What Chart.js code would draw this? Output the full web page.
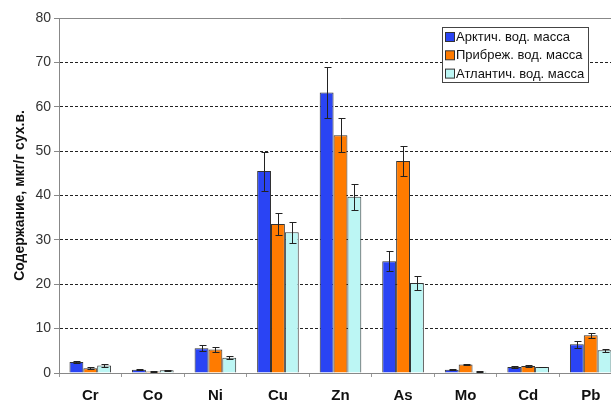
<!DOCTYPE html>
<html><head><meta charset="utf-8">
<script src="https://cdn.jsdelivr.net/npm/chart.js@4"></script>
<style>html,body{margin:0;padding:0;background:#fff;overflow:hidden;width:611px;height:401px}</style>
</head><body>
<canvas id="c" width="622" height="401" style="display:block"></canvas>
<script>
const categories = ['Cr','Co','Ni','Cu','Zn','As','Mo','Cd','Pb'];
const seriesNames = ['Арктич. вод. масса','Прибреж. вод. масса','Атлантич. вод. масса'];
const arctic      = [2.5, 0.75, 5.6, 45.5, 63.2, 25.2, 0.75, 1.35, 6.5];
const arcticErr   = [0.3, 0.15, 0.6, 4.4, 5.8, 2.3, 0.1, 0.15, 0.8];
const coastal     = [1.05, 0.35, 5.3, 33.6, 53.6, 47.8, 1.9, 1.6, 8.5];
const coastalErr  = [0.2, 0.05, 0.5, 2.5, 3.9, 3.4, 0.2, 0.2, 0.6];
const atlantic    = [1.7, 0.6, 3.45, 31.7, 39.7, 20.3, 0.3, 1.35, 5.1];
const atlanticErr = [0.3, 0.1, 0.4, 2.4, 2.9, 1.5, 0.05, 0.1, 0.4];
const yTicks = [0,10,20,30,40,50,60,70,80];
const colors = ['#2a44f4','#ff7b00','#bcf6f4'];
const FONT = "'Liberation Sans', Arial, sans-serif";

const errs = [arcticErr, coastalErr, atlanticErr];

const errorBars = {
  id:'errorBars',
  afterDatasetsDraw(chart){
    const ctx = chart.ctx, y = chart.scales.y;
    ctx.save();
    ctx.strokeStyle = '#222'; ctx.lineWidth = 1;
    chart.data.datasets.forEach((ds,i)=>{
      const meta = chart.getDatasetMeta(i);
      meta.data.forEach((el,j)=>{
        const v = ds.data[j], e = errs[i][j];
        if(!e) return;
        const x = Math.round(el.x)+0.5;
        const t = Math.round(y.getPixelForValue(v+e))+0.5;
        const b = Math.round(y.getPixelForValue(Math.max(0,v-e)))+0.5;
        ctx.beginPath();
        ctx.moveTo(x,t); ctx.lineTo(x,b);
        ctx.moveTo(x-3,t); ctx.lineTo(x+4,t);
        ctx.moveTo(x-3,b); ctx.lineTo(x+4,b);
        ctx.stroke();
      });
    });
    ctx.restore();
  }
};

const frame = {
  id:'frame',
  afterDraw(chart){
    const ctx = chart.ctx, a = chart.chartArea;
    ctx.save();
    ctx.setLineDash([]);
    ctx.strokeStyle = '#888'; ctx.lineWidth = 1;
    ctx.beginPath();
    ctx.moveTo(a.left, Math.round(a.top)+0.5); ctx.lineTo(a.right, Math.round(a.top)+0.5);
    ctx.moveTo(Math.round(a.left)+0.5, a.top); ctx.lineTo(Math.round(a.left)+0.5, a.bottom);
    ctx.stroke();
    // legend
    const lx = 442, ly = 27, lw = 146, lh = 55;
    ctx.fillStyle = '#fff';
    ctx.fillRect(lx,ly,lw,lh);
    ctx.strokeStyle = '#444';
    ctx.strokeRect(lx+0.5,ly+0.5,lw,lh);
    ctx.font = '13px ' + FONT;
    ctx.textBaseline = 'middle';
    chart.data.datasets.forEach((ds,i)=>{
      const cy = ly + 10 + i*18.3;
      ctx.fillStyle = ds.backgroundColor;
      ctx.fillRect(lx+3.5, cy-4.5, 9, 9);
      ctx.strokeStyle = '#333';
      ctx.strokeRect(lx+3.5, cy-4.5, 9, 9);
      ctx.fillStyle = '#111';
      ctx.fillText(ds.label, lx+14, cy+0.5);
    });
    ctx.restore();
  }
};

new Chart(document.getElementById('c'), {
  type:'bar',
  data:{
    labels: categories,
    datasets:[
      {label: seriesNames[0], data: arctic, backgroundColor: colors[0]},
      {label: seriesNames[1], data: coastal, backgroundColor: colors[1]},
      {label: seriesNames[2], data: atlantic, backgroundColor: colors[2]}
    ].map(d=>Object.assign(d,{borderColor:'#333',borderWidth:1,categoryPercentage:0.665,barPercentage:1}))
  },
  options:{
    responsive:false, animation:false,
    layout:{padding:{top:18,right:0,left:0,bottom:0}},
    plugins:{legend:{display:false}, tooltip:{enabled:false}},
    scales:{
      x:{
        offset:true,
        grid:{offset:true, drawOnChartArea:false, drawTicks:true, tickLength:4, color:'#999'},
        border:{color:'#888'},
        ticks:{color:'#111', font:{family:FONT, size:15, weight:'bold'}, padding:10},
        afterFit(s){ s.height = 28; }
      },
      y:{
        min:0, max:80,
        afterBuildTicks(s){ s.ticks = yTicks.map(v=>({value:v})); },
        grid:{
          color:(c)=> (c.tick && (c.tick.value===0 || c.tick.value===80)) ? 'rgba(0,0,0,0)' : '#222',
          tickColor:'#888', tickLength:5, drawTicks:true, lineWidth:1
        },
        border:{color:'#888', dash:[3,2]},
        ticks:{color:'#333', font:{family:FONT, size:14}, padding:3},
        title:{display:true, text:'Содержание, мкг/г сух.в.', color:'#111', font:{family:FONT, size:14, weight:'bold'}, padding:{top:12,bottom:0}},
        afterFit(s){ s.width = 59; }
      }
    }
  },
  plugins:[errorBars, frame]
});
</script>
</body></html>
